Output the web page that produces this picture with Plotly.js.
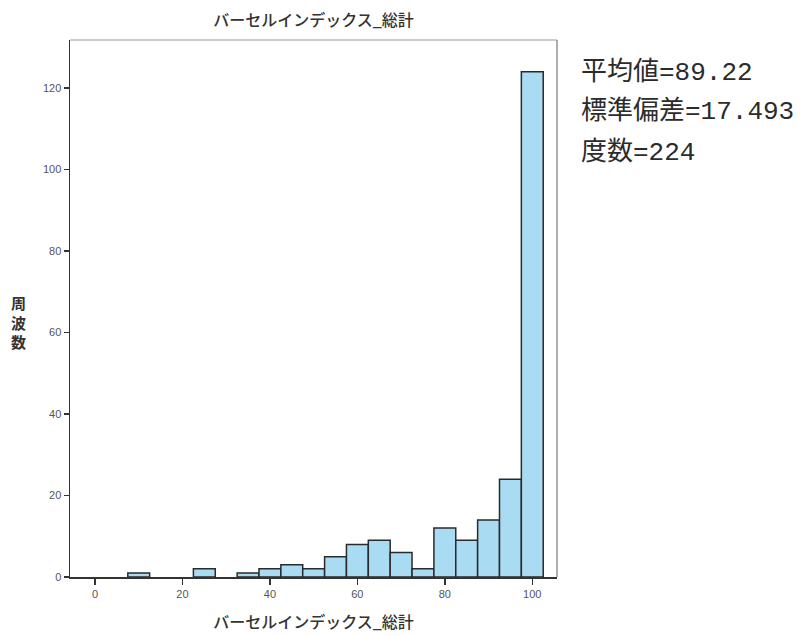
<!DOCTYPE html>
<html>
<head>
<meta charset="utf-8">
<script src="https://cdn.plot.ly/plotly-3.0.1.min.js"></script>
<style>body{margin:0;padding:0;background:#fff;}#chart{width:805px;height:636px;}</style>
</head>
<body>
<div id="chart"></div>
<script>
// Bin centers (bin width 5) and counts
const binCenters = [10, 25, 35, 40, 45, 50, 55, 60, 65, 70, 75, 80, 85, 90, 95, 100];
const counts     = [1, 2, 1, 2, 3, 2, 5, 8, 9, 6, 2, 12, 9, 14, 24, 124];
const binWidth = 5;
const xTicks = [0, 20, 40, 60, 80, 100];
const yTicks = [0, 20, 40, 60, 80, 100, 120];
const titleText = 'バーセルインデックス_総計';
const xTitle = 'バーセルインデックス_総計';
const yTitle = '周<br>波<br>数';
const statsLines = ['平均値=89.22', '標準偏差=17.493', '度数=224'];

const trace = {
  type: 'bar',
  x: binCenters,
  y: counts,
  width: binCenters.map(() => binWidth),
  marker: { color: '#a9dbf3', line: { color: '#2a2a2a', width: 1.5 } },
  hoverinfo: 'x+y'
};

const statsY = [0.940, 0.866, 0.791];
const annotations = statsLines.map((t, i) => ({
  xref: 'paper', yref: 'paper', x: 1.045, y: statsY[i],
  xanchor: 'left', yanchor: 'middle', showarrow: false,
  text: t,
  font: { family: 'Liberation Mono, "Noto Sans CJK JP", monospace', size: 26, color: '#2b2b2b' }
}));
annotations.push({
  xref: 'paper', yref: 'paper', x: -0.105, y: 0.475,
  xanchor: 'center', yanchor: 'middle', showarrow: false,
  text: yTitle, align: 'center',
  font: { family: '"Noto Sans CJK JP", sans-serif', size: 15, color: '#333', weight: 'bold' }
});

const layout = {
  width: 805, height: 636,
  margin: { l: 70, r: 248, t: 40, b: 59 },
  paper_bgcolor: '#ffffff', plot_bgcolor: '#ffffff',
  showlegend: false,
  bargap: 0,
  title: {
    text: titleText, x: 0.5, xref: 'paper', y: 0.968, yanchor: 'middle',
    font: { family: '"Noto Sans CJK JP", sans-serif', size: 16, color: '#333', weight: 500 }
  },
  xaxis: {
    range: [-5.72, 105.65], tickvals: xTicks, ticktext: xTicks.map(String),
    showgrid: false, zeroline: false, showline: true, linecolor: '#333', linewidth: 1.5,
    ticks: 'outside', ticklen: 6, tickcolor: '#333', tickwidth: 1.5,
    tickfont: { family: 'Liberation Sans, Arial, sans-serif', size: 11, color: '#555' },
    title: { text: xTitle, standoff: 18, font: { family: '"Noto Sans CJK JP", sans-serif', size: 16, color: '#333', weight: 500 } }
  },
  yaxis: {
    range: [0, 131.8], tickvals: yTicks, ticktext: yTicks.map(String),
    showgrid: false, zeroline: false, showline: true, linecolor: '#333', linewidth: 1.5,
    ticks: 'outside', ticklen: 5, tickcolor: '#333', tickwidth: 1.5,
    tickfont: { family: 'Liberation Sans, Arial, sans-serif', size: 11, color: '#555' }
  },
  shapes: [
    { type: 'line', xref: 'paper', yref: 'paper', x0: 0, x1: 1, y0: 1, y1: 1, line: { color: '#999', width: 1 } },
    { type: 'line', xref: 'paper', yref: 'paper', x0: 1, x1: 1, y0: 0, y1: 1, line: { color: '#777', width: 1.2 } }
  ],
  annotations: annotations
};

Plotly.newPlot('chart', [trace], layout, { displayModeBar: false, staticPlot: true });
</script>
</body>
</html>
